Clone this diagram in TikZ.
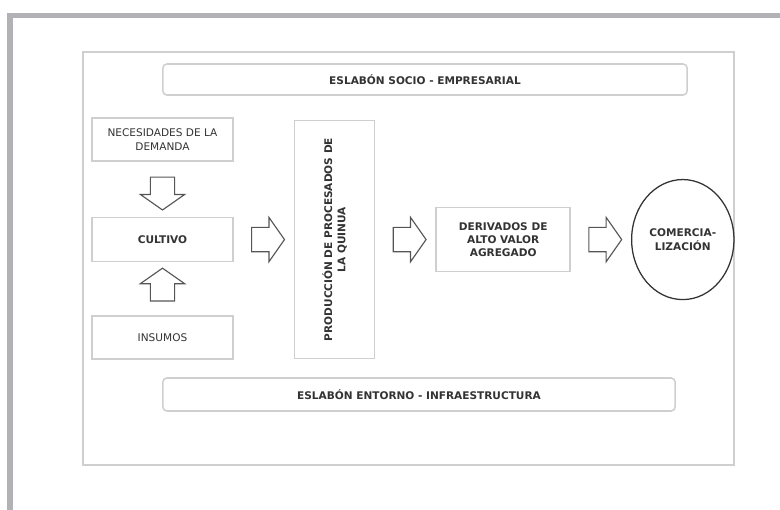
\documentclass[tikz,border=0pt]{standalone}
\usepackage{fontspec}
\setmainfont{DejaVu Sans}
\usetikzlibrary{positioning, calc, shapes.arrows, shapes.geometric}
\definecolor{framegray}{HTML}{B2B2B6}
\definecolor{boxgray}{HTML}{CFCFCF}
\definecolor{inkgray}{HTML}{333333}
\definecolor{arrowgray}{HTML}{555555}

\begin{document}
\begin{tikzpicture}[x=0.025cm, y=-0.025cm, text=inkgray,
    font=\fontsize{7.5}{9.5}\selectfont]
    \tikzstyle{box}=[
        draw = boxgray,
        line width = 1.1pt,
        align = center,
        inner sep = 2pt
    ]
    \tikzstyle{strong}=[font=\fontsize{7.5}{9.5}\selectfont\bfseries]
    \tikzstyle{band}=[box, strong, rounded corners=2.8pt]
    \tikzstyle{fat arrow}=[
        single arrow,
        draw = arrowgray,
        fill = white,
        line width = 0.8pt,
        inner sep = 0.29cm,
        minimum height = 0.78cm,
        single arrow head extend = 0.25cm,
        single arrow tip angle = 110,
        single arrow head indent = 0pt
    ]
    \useasboundingbox (0,0) rectangle (780,510);
    \draw[framegray, line width=0.14cm] (10.3,510) -- (10.3,15.5) -- (780,15.5);
    \draw[boxgray, line width=1.1pt] (83,52) rectangle (734,465);

    \node[band, minimum width=13.1cm, minimum height=0.775cm] (socio) at (425,79.5)
        {ESLABÓN SOCIO - EMPRESARIAL};
    \node[band, minimum width=12.8cm, minimum height=0.825cm] (entorno) at (419,394.5)
        {ESLABÓN ENTORNO - INFRAESTRUCTURA};

    \begin{scope}[node distance=1.375cm and 1.5cm, every node/.style=box]
      \node (nec) [minimum width=3.525cm, minimum height=1.075cm] at (162.5,139.5)
          {NECESIDADES DE LA\\DEMANDA};
      \node (cultivo) [below=of nec, strong, minimum width=3.525cm, minimum height=1.1cm] {CULTIVO};
      \node (insumos) [below=1.325cm of cultivo, minimum width=3.525cm, minimum height=1.075cm] {INSUMOS};

      \node (prod) [right=of cultivo, minimum width=2cm, minimum height=5.95cm] {};
      \node (deriv) [right=of prod, strong, minimum width=3.35cm, minimum height=1.6cm]
          {DERIVADOS DE\\ALTO VALOR\\AGREGADO};
      \node (comerc) [right=of deriv, ellipse, strong, draw=inkgray, line width=0.9pt,
          minimum width=2.525cm, minimum height=3cm] {COMERCIA-\\LIZACIÓN};
    \end{scope}
    \node (prodtext) [rotate=90, align=center, strong] at (prod)
        {PRODUCCIÓN DE PROCESADOS DE\\LA QUINUA};

    % block arrows between the stages
    \node (down) [fat arrow, shape border rotate=270] at ($(nec.south)!0.5!(cultivo.north)$) {};
    \node (up) [fat arrow, shape border rotate=90] at ($(insumos.north)!0.5!(cultivo.south)$) {};
    \node (toprod) [fat arrow] at ($(cultivo.east)!0.5!(prod.west)$) {};
    \node (toderiv) [fat arrow] at ($(prod.east)!0.5!(deriv.west)$) {};
    \node (tocomerc) [fat arrow] at ($(deriv.east)!0.5!(comerc.west)$) {};
\end{tikzpicture}
\end{document}
